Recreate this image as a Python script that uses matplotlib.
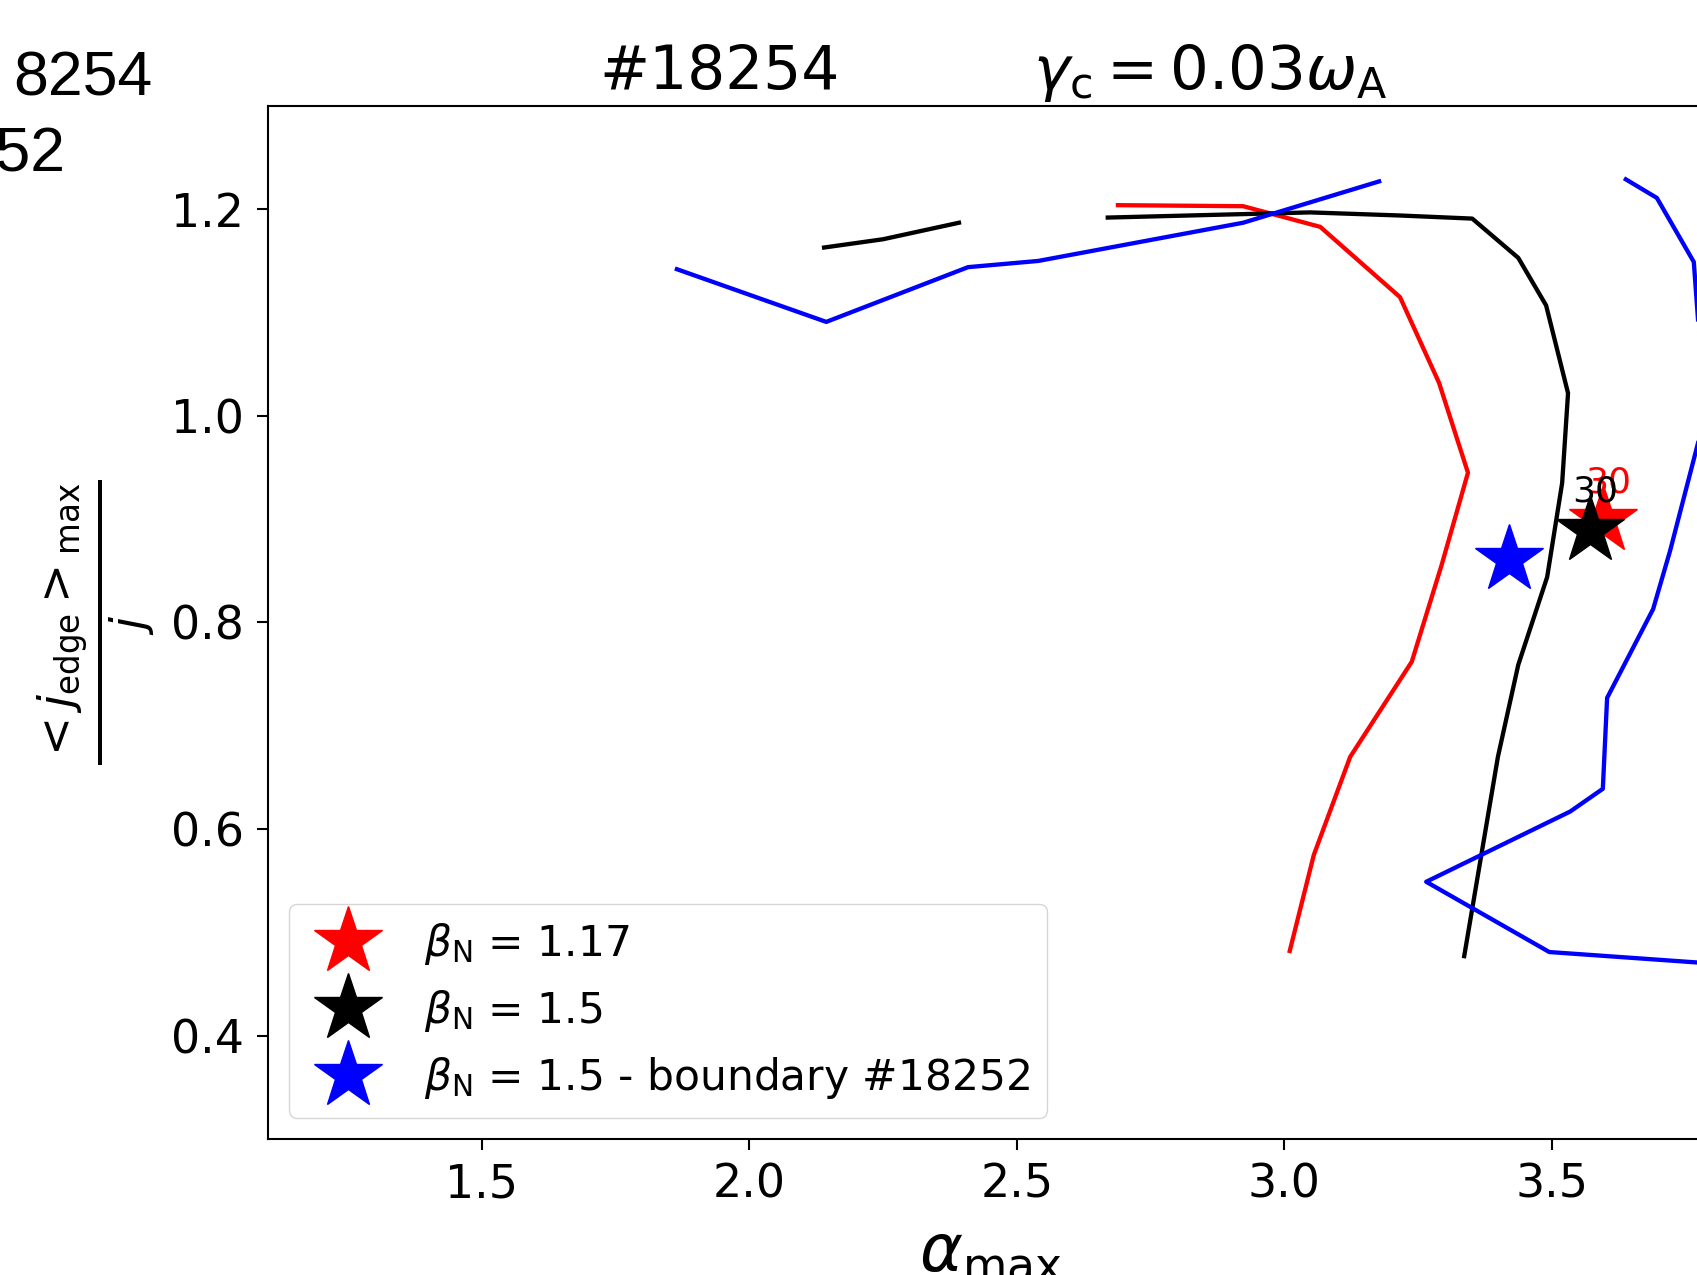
import matplotlib
matplotlib.use("Agg")
import matplotlib.pyplot as plt

# ---- data ----
red_x = [3.010, 3.055, 3.123, 3.238, 3.294, 3.343, 3.289, 3.216, 3.067, 2.923, 2.689]
red_y = [0.482, 0.575, 0.670, 0.762, 0.856, 0.945, 1.032, 1.115, 1.183, 1.203, 1.204]

blk_x = [3.336, 3.399, 3.437, 3.491, 3.519, 3.530, 3.489, 3.437, 3.351, 3.216, 3.048, 2.670]
blk_y = [0.477, 0.670, 0.759, 0.844, 0.935, 1.022, 1.107, 1.153, 1.191, 1.194, 1.197, 1.192]

blk2_x = [2.140, 2.250, 2.392]
blk2_y = [1.163, 1.171, 1.187]

blu_x = [1.865, 2.144, 2.409, 2.540, 2.923, 3.177]
blu_y = [1.142, 1.091, 1.144, 1.150, 1.187, 1.227]

blu2_x = [3.638, 3.696, 3.765, 3.786, 3.721, 3.689, 3.603, 3.595, 3.534, 3.265, 3.495, 3.850]
blu2_y = [1.229, 1.211, 1.149, 1.000, 0.870, 0.813, 0.727, 0.639, 0.617, 0.549, 0.481, 0.468]

star_x = [3.595, 3.571, 3.420]
star_y = [0.899, 0.890, 0.861]
star_colors = ["red", "black", "blue"]
star_labels = [r"$\beta_{\rm N}$ = 1.17", r"$\beta_{\rm N}$ = 1.5",
               r"$\beta_{\rm N}$ = 1.5 - boundary #18252"]
star_notes = ["30", "30", None]

xticks = [1.5, 2.0, 2.5, 3.0, 3.5]
yticks = [0.4, 0.6, 0.8, 1.0, 1.2]

# ---- figure ----
W, H = 1697, 1275
fig = plt.figure(figsize=(W / 100, H / 100), dpi=100)
xmin, xmax = 1.1, 3.80
px_per_unit = 535.2
left_px = 267.5
ax = fig.add_axes([left_px / W, 1 - 1139 / H, (xmax - xmin) * px_per_unit / W, (1139 - 106) / H])

lw = 3.1
ax.plot(red_x, red_y, color="red", lw=lw)
ax.plot(blk_x, blk_y, color="black", lw=lw)
ax.plot(blk2_x, blk2_y, color="black", lw=lw)
ax.plot(blu_x, blu_y, color="blue", lw=lw)
ax.plot(blu2_x, blu2_y, color="blue", lw=lw)

for x, y, c, lab, note in zip(star_x, star_y, star_colors, star_labels, star_notes):
    ax.plot([x], [y], marker="*", ms=51, color=c, ls="none", label=lab)
    if note:
        ax.annotate(note, (x, y), xytext=(-13, 20), textcoords="offset points",
                    color=c, fontsize=26, ha="left", va="baseline")

ax.set_xlim(xmin, xmax)
ax.set_ylim(0.3, 1.3)
ax.set_xticks(xticks)
ax.set_yticks(yticks)
ax.tick_params(labelsize=33, length=8, width=1.5, pad=9)
for s in ax.spines.values():
    s.set_linewidth(1.5)

ax.set_xlabel(r"$\alpha_{\rm max}$", fontsize=47, labelpad=10)
ax.set_ylabel(r"$\frac{< j_{\rm edge} >_{\rm max}}{j}$", fontsize=48, labelpad=10)

ax.legend(loc="lower left", fontsize=30.5, numpoints=1)

fig.text(719 / W, 1 - 89 / H, "#18254", fontsize=43, ha="center", va="baseline")
fig.text(1210 / W, 1 - 89 / H, r"$\gamma_{\rm c} = 0.03\omega_{\rm A}$", fontsize=44,
         ha="center", va="baseline")

fig.text(152 / W, 1 - 95 / H, "8254", fontsize=45, ha="right", va="baseline",
         family="Liberation Sans")
fig.text(65 / W, 1 - 171 / H, "18252", fontsize=45, ha="right", va="baseline",
         family="Liberation Sans")

fig.savefig("out.png", dpi=100)
